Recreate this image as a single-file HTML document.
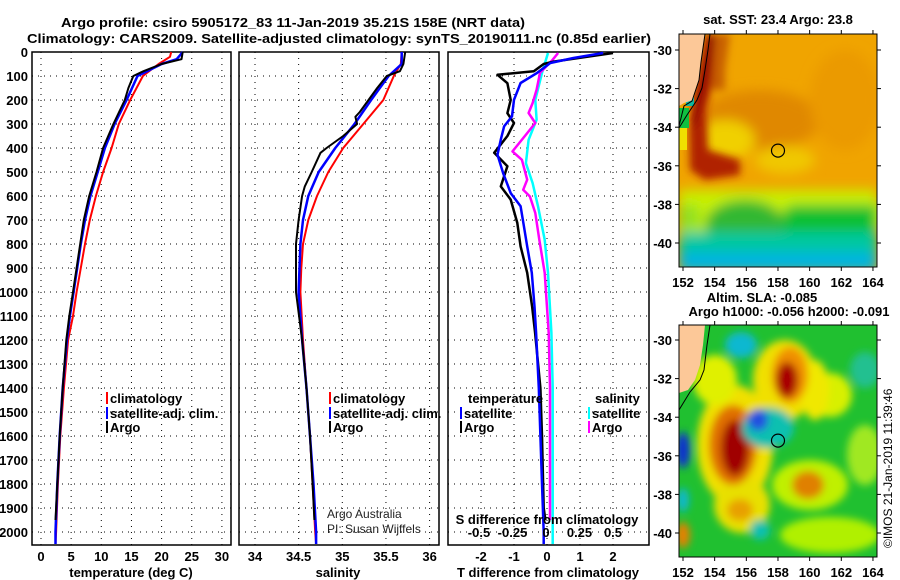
<!DOCTYPE html>
<html><head><meta charset="utf-8">
<style>
html,body{margin:0;padding:0;background:#fff;}
svg{display:block;font-family:"Liberation Sans",sans-serif;}
.b{font-weight:bold;font-size:13px;}
</style></head>
<body>
<svg id="fig" width="900" height="580" viewBox="0 0 900 580" xmlns="http://www.w3.org/2000/svg">
<defs>
<filter id="blur6" x="-50%" y="-50%" width="200%" height="200%"><feGaussianBlur stdDeviation="6"/></filter>
<filter id="blur4" x="-50%" y="-50%" width="200%" height="200%"><feGaussianBlur stdDeviation="4"/></filter>
<clipPath id="clipTop"><rect x="679" y="34" width="198" height="233"/></clipPath>
<clipPath id="clipBot"><rect x="679" y="325" width="198" height="232"/></clipPath>
</defs>
<text class="b" x="61" y="27" font-size="15" textLength="464" lengthAdjust="spacingAndGlyphs">Argo profile: csiro 5905172_83 11-Jan-2019 35.21S 158E (NRT data)</text>
<text class="b" x="27" y="43" font-size="15" textLength="624" lengthAdjust="spacingAndGlyphs">Climatology: CARS2009. Satellite-adjusted climatology: synTS_20190111.nc (0.85d earlier)</text>

<!-- top map -->
<g clip-path="url(#clipTop)">
  <rect x="679" y="34" width="198" height="233" fill="#f0a400"/>
  <g filter="url(#blur6)">
    <rect x="679" y="190" width="198" height="80" fill="#c8f000"/>
    <ellipse cx="800" cy="215" rx="110" ry="18" fill="#c8f000"/>
    <ellipse cx="760" cy="120" rx="60" ry="30" fill="#e08800"/>
    <ellipse cx="845" cy="100" rx="35" ry="50" fill="#eb9a00"/>
    <ellipse cx="725" cy="140" rx="30" ry="20" fill="#f0d000"/>
    <ellipse cx="785" cy="160" rx="30" ry="14" fill="#f0c800"/>
    <path d="M790 205 Q770 225 790 245 L877 245 L877 205 Z" fill="#10c030"/>
    <ellipse cx="745" cy="225" rx="40" ry="25" fill="#30b830"/>
    <rect x="679" y="232" width="198" height="40" fill="#00c8a0"/>
    <rect x="679" y="252" width="198" height="20" fill="#00b4e0"/>
    <rect x="679" y="205" width="20" height="25" fill="#90e020"/>
  </g>
  <g filter="url(#blur4)">
    <path d="M706 34 L722 34 L716 70 L706 110 L708 150 L740 160 L740 175 L705 180 L690 170 L689 130 L695 90 Z" fill="#b02000"/>
    <path d="M708 34 L716 34 L710 70 L700 110 L694 130 L690 120 L700 80 Z" fill="#900000"/>
    <path d="M715 34 L730 34 L725 70 L725 90 L712 90 Z" fill="#c86000"/>
  </g>
  <rect x="679" y="128" width="8" height="22" fill="#f0e000"/>
  <rect x="686" y="88" width="8" height="18" fill="#10b8a0"/>
  <rect x="679" y="108" width="10" height="20" fill="#10c040"/>
  <path d="M679 34 L705 34 L703 48 L701 62 L699 80 L695 92 L693 100 L684 103 L679 106 Z" fill="#fcc898"/>
  <path d="M705 34 L703 48 L701 62 L699 80 L695 92 L692 101 L684 106 L679 126" fill="none" stroke="#000" stroke-width="1"/>
  <path d="M710 34 L708 50 L705 70 L702 88 L697 100 L687 115 L679 128" fill="none" stroke="#000" stroke-width="1"/>
  <circle cx="778" cy="150.6" r="6.5" fill="none" stroke="#000" stroke-width="1.2"/>
</g>
<rect x="679" y="34" width="198" height="233" fill="none" stroke="#000" stroke-width="1"/>
<text class="b" x="778" y="24" text-anchor="middle">sat. SST: 23.4 Argo: 23.8</text>

<!-- bottom map -->
<g clip-path="url(#clipBot)">
  <rect x="679" y="325" width="198" height="232" fill="#20c030"/>
  <g filter="url(#blur4)">
    <ellipse cx="785" cy="380" rx="32" ry="40" fill="#f0e000"/>
    <ellipse cx="735" cy="445" rx="38" ry="60" fill="#f0e000"/>
    <ellipse cx="742" cy="505" rx="28" ry="28" fill="#e8e000"/>
    <ellipse cx="810" cy="485" rx="38" ry="25" fill="#c0f000"/>
    <ellipse cx="830" cy="395" rx="22" ry="22" fill="#d8f000"/>
    <ellipse cx="865" cy="455" rx="18" ry="30" fill="#a0e820"/>
    <ellipse cx="715" cy="380" rx="22" ry="25" fill="#e0f000"/>
    <ellipse cx="830" cy="535" rx="50" ry="18" fill="#b0f000"/>
    <ellipse cx="815" cy="390" rx="14" ry="30" fill="#f0e800"/>
    <ellipse cx="790" cy="375" rx="18" ry="28" fill="#f09000"/>
    <ellipse cx="787" cy="380" rx="11" ry="18" fill="#a80000"/>
    <ellipse cx="733" cy="445" rx="24" ry="40" fill="#e07000"/>
    <ellipse cx="735" cy="448" rx="14" ry="28" fill="#a00000"/>
    <ellipse cx="808" cy="485" rx="16" ry="14" fill="#e08000"/>
    <ellipse cx="740" cy="510" rx="13" ry="11" fill="#e8a000"/>
    <ellipse cx="768" cy="428" rx="26" ry="20" fill="#10c0b0"/>
    <ellipse cx="758" cy="420" rx="10" ry="11" fill="#2050e0"/>
    <ellipse cx="741" cy="345" rx="16" ry="13" fill="#10b8d0"/>
    <ellipse cx="683" cy="450" rx="7" ry="18" fill="#1030d0"/>
    <ellipse cx="683" cy="500" rx="6" ry="12" fill="#10b8d0"/>
    <ellipse cx="683" cy="535" rx="7" ry="13" fill="#e88000"/>
    <ellipse cx="865" cy="370" rx="15" ry="18" fill="#20c090"/>
    <ellipse cx="760" cy="530" rx="10" ry="10" fill="#10c0b0"/>
  </g>
  <path d="M679 325 L705 325 L703 345 L700 365 L695 380 L688 390 L679 393 Z" fill="#fcc898"/>
  <path d="M710 325 L707 345 L704 370 L700 380 L690 392 L679 410" fill="none" stroke="#000" stroke-width="1"/>
  <circle cx="778" cy="440.6" r="6.5" fill="none" stroke="#000" stroke-width="1.2"/>
</g>
<rect x="679" y="325" width="198" height="232" fill="none" stroke="#000" stroke-width="1"/>
<text class="b" x="762" y="302" text-anchor="middle">Altim. SLA: -0.085</text>
<text class="b" x="789" y="316" text-anchor="middle">Argo h1000: -0.056 h2000: -0.091</text>
<text x="892" y="548" font-size="12" transform="rotate(-90 892 548)">©IMOS 21-Jan-2019 11:39:46</text>

<g id="plots"></g>
<g id="mapaxes"></g>
</svg>
<script>
// ===== data =====
const depthTicks = [0,100,200,300,400,500,600,700,800,900,1000,1100,1200,1300,1400,1500,1600,1700,1800,1900,2000];
const tempTicks = [0,5,10,15,20,25,30];
const salTicks = [34,34.5,35,35.5,36];
const tdiffTicks = [-2,-1,0,1,2];
const sdiffTicks = [-0.5,-0.25,0,0.25,0.5];
const sdiffTickLabels = ["-0.5","-0.25","0","0.25","0.5"];
const lonTicks = [152,154,156,158,160,162,164];
const latTicks = [-30,-32,-34,-36,-38,-40];

const tempClimDepth = [0,20,50,100,200,300,400,500,600,700,800,900,1000,1100,1200,1400,1600,1800,2000,2050];
const tempClim = [21.6,21.4,19.5,16.9,14.8,12.9,11.7,10.3,9.1,8.1,7.3,6.6,5.9,5.3,4.5,3.8,3.2,2.8,2.5,2.4];
const tempArgoDepth = [0,30,50,80,100,150,200,300,400,500,600,700,800,900,1000,1100,1200,1400,1600,1800,1900,1950];
const tempArgo = [23.5,23.3,20,17,15.3,14.5,13.9,12,10.3,9.2,8,7.1,6.5,5.9,5.3,4.7,4.2,3.6,3.1,2.7,2.5,2.4];
const tempSatDepth = [0,30,50,100,200,300,400,500,600,700,800,900,1000,1100,1200,1400,1600,1800,2000,2050];
const tempSat = [23.5,22.5,20,16,14.2,12.2,10.6,9.4,8.2,7.3,6.6,6.0,5.4,4.8,4.3,3.6,3.1,2.7,2.4,2.4];

const salClimDepth = [0,50,100,200,300,400,500,600,700,800,900,1000,1200,1400,1600,1800,2000,2050];
const salClim = [35.68,35.67,35.59,35.47,35.24,35.01,34.84,34.71,34.61,34.55,34.53,34.52,34.55,34.59,34.63,34.66,34.69,34.70];
const salArgoDepth = [0,50,80,100,150,200,250,270,300,350,400,420,500,560,600,700,800,1000,1200,1400,1600,1800,1950];
const salArgo = [35.72,35.70,35.66,35.51,35.40,35.30,35.20,35.15,35.17,35.01,34.82,34.75,34.65,34.57,34.54,34.50,34.47,34.47,34.54,34.59,34.63,34.66,34.68];
const salSatDepth = [0,50,100,200,300,400,500,600,700,800,1000,1200,1400,1600,1800,2000,2050];
const salSat = [35.68,35.68,35.53,35.33,35.14,34.92,34.73,34.61,34.55,34.52,34.50,34.54,34.59,34.63,34.67,34.70,34.70];

const tdArgoDepth = [4,40,50,80,95,130,200,255,296,350,420,476,560,615,712,810,920,1060,1170,1400,1600,1900,1950];
const tdArgo = [2.0,0.2,-0.1,-0.4,-1.5,-1.2,-1.1,-1.2,-1.0,-1.2,-1.6,-1.2,-1.4,-1.1,-0.9,-0.8,-0.6,-0.45,-0.36,-0.2,-0.15,-0.1,-0.05];
const tdSatDepth = [4,25,46,87,129,199,268,310,365,428,504,588,643,726,810,920,1060,1170,1400,1600,1800,2000,2050];
const tdSat = [1.7,0.8,0.1,-0.3,-0.8,-1.0,-1.06,-1.3,-1.4,-1.5,-1.33,-1.1,-0.8,-0.7,-0.6,-0.46,-0.38,-0.33,-0.25,-0.2,-0.15,-0.1,-0.1];
const sdArgoDepth = [4,32,87,157,213,254,296,338,414,449,532,574,602,671,782,920,1170,1400,1700,1950];
const sdArgo = [0.09,0.05,-0.045,-0.07,-0.1,-0.13,-0.08,-0.14,-0.25,-0.18,-0.14,-0.17,-0.12,-0.08,-0.05,-0.01,0.02,0.03,0.03,0.03];
const sdSatDepth = [4,87,199,282,366,463,546,643,782,920,1170,1400,1700,2000,2050];
const sdSat = [0.015,-0.03,-0.08,-0.07,-0.13,-0.15,-0.1,-0.06,-0.01,0.015,0.04,0.05,0.05,0.05,0.05];

// ===== layout =====
const NS = "http://www.w3.org/2000/svg";
const plots = document.getElementById('plots');
const TOP = 52, BOT = 545;
const yD = d => TOP + d * 0.24;
const panels = [
  {name:'temperature', x0:32, x1:231, sx: v => 41 + v * 6.03, ticks: tempTicks, labels: tempTicks.map(String), title:'temperature (deg C)', tx:131},
  {name:'salinity', x0:239, x1:439, sx: v => 255 + (v - 34) * 87.3, ticks: salTicks, labels: ["34","34.5","35","35.5","36"], title:'salinity', tx:338},
  {name:'difference', x0:448, x1:649, sx: v => 547 + v * 33, ticks: tdiffTicks, labels: tdiffTicks.map(String), title:'T difference from climatology', tx:548}
];
const sxS = v => 546 + v * 134;

function mk(tag, attrs, parent) {
  const e = document.createElementNS(NS, tag);
  for (const k in attrs) e.setAttribute(k, attrs[k]);
  (parent || plots).appendChild(e);
  return e;
}
function txt(x, y, s, cls, anchor, parent) {
  const t = mk('text', {x:x, y:y, 'text-anchor':anchor || 'start'}, parent);
  if (cls) t.setAttribute('class', cls);
  t.textContent = s;
  return t;
}

panels.forEach((p, i) => {
  const g = mk('g', {});
  
  
  depthTicks.forEach(d => {
    const l = mk('line', {x1:p.x0, x2:p.x1, y1:yD(d), y2:yD(d), stroke:'#000', 'stroke-width':1, 'stroke-dasharray':'1 5'}, g);
    
    
  });
  p.ticks.forEach((v, k) => {
    const x = p.sx(v);
    const l = mk('line', {x1:x, x2:x, y1:TOP, y2:BOT, stroke:'#000', 'stroke-width':1, 'stroke-dasharray':'1 5'}, g);
    
    
    const t = txt(x, 561, p.labels[k], 'b', 'middle', g);
    
    
  });
  const fr = mk('rect', {x:p.x0, y:TOP, width:p.x1 - p.x0, height:BOT - TOP, fill:'none', stroke:'#000', 'stroke-width':1.5}, g);
  
  
  const tt = txt(p.tx, 577, p.title, 'b', 'middle', g);
  
  
});
depthTicks.forEach(d => {
  const t = txt(28, yD(d) + 5, String(d), 'b', 'end');
  
  
});

function series(depths, vals, sx, color, name, w) {
  const pts = depths.map((d, i) => sx(vals[i]).toFixed(1) + ',' + yD(d).toFixed(1)).join(' ');
  const pl = mk('polyline', {points:pts, fill:'none', stroke:color, 'stroke-width':w || 2, 'stroke-linejoin':'round'});
  
  
}
const P = panels;
series(tempClimDepth, tempClim, P[0].sx, '#ff0000', 'temperature-climatology-line');
series(tempSatDepth, tempSat, P[0].sx, '#0000ff', 'temperature-satellite-line', 2.5);
series(tempArgoDepth, tempArgo, P[0].sx, '#000000', 'temperature-argo-line');
series(salClimDepth, salClim, P[1].sx, '#ff0000', 'salinity-climatology-line');
series(salSatDepth, salSat, P[1].sx, '#0000ff', 'salinity-satellite-line', 2.5);
series(salArgoDepth, salArgo, P[1].sx, '#000000', 'salinity-argo-line');
series(sdSatDepth, sdSat, sxS, '#00ffff', 'sdiff-satellite-line', 2.5);
series(sdArgoDepth, sdArgo, sxS, '#ff00ff', 'sdiff-argo-line', 2.5);
series(tdArgoDepth, tdArgo, P[2].sx, '#000000', 'tdiff-argo-line', 2.5);
series(tdSatDepth, tdSat, P[2].sx, '#0000ff', 'tdiff-satellite-line', 2.5);

sdiffTicks.forEach((v, k) => {
  const t = txt(sxS(v), 537, sdiffTickLabels[k], 'b', 'middle');
  
  
});
const sdt = txt(547, 524, 'S difference from climatology', 'b', 'middle');



function legend(x, y, color, label, name) {
  const g = mk('g', {});
  
  
  mk('line', {x1:x, x2:x, y1:y - 11, y2:y + 1, stroke:color, 'stroke-width':2}, g);
  txt(x + 3, y, label, 'b', 'start', g);
}
legend(107, 403, '#ff0000', 'climatology', 'legend-climatology-temp');
legend(107, 418, '#0000ff', 'satellite-adj. clim.', 'legend-satellite-temp');
legend(107, 432, '#000000', 'Argo', 'legend-argo-temp');
legend(330, 403, '#ff0000', 'climatology', 'legend-climatology-sal');
legend(330, 418, '#0000ff', 'satellite-adj. clim.', 'legend-satellite-sal');
legend(330, 432, '#000000', 'Argo', 'legend-argo-sal');
const lt = txt(468, 403, 'temperature', 'b');


const ls = txt(595, 403, 'salinity', 'b');


legend(461, 418, '#0000ff', 'satellite', 'legend-tdiff-satellite');
legend(461, 432, '#000000', 'Argo', 'legend-tdiff-argo');
legend(589, 418, '#00ffff', 'satellite', 'legend-sdiff-satellite');
legend(589, 432, '#ff00ff', 'Argo', 'legend-sdiff-argo');

const c1 = txt(327, 518, 'Argo Australia', null, 'start');
c1.setAttribute('font-size', '12');
c1.setAttribute('fill', '#222');


const c2 = txt(327, 533, 'PI: Susan Wijffels', null, 'start');
c2.setAttribute('font-size', '12');
c2.setAttribute('fill', '#222');



const mapaxes = document.getElementById('mapaxes');
const lonX = lon => 683 + (lon - 152) * 15.83;
[[34, 267, 50], [325, 557, 340]].forEach((m, mi) => {
  const latY = lat => m[2] + (-30 - lat) * 19.3;
  lonTicks.forEach(lon => {
    mk('line', {x1:lonX(lon), x2:lonX(lon), y1:m[0] - 4, y2:m[0], stroke:'#000'}, mapaxes);
    mk('line', {x1:lonX(lon), x2:lonX(lon), y1:m[1], y2:m[1] + 4, stroke:'#000'}, mapaxes);
    const t = txt(lonX(lon), m[1] + 20, String(lon), 'b', 'middle', mapaxes);
    t.setAttribute('font-size', '14');
    
    
  });
  latTicks.forEach(lat => {
    mk('line', {x1:675, x2:679, y1:latY(lat), y2:latY(lat), stroke:'#000'}, mapaxes);
    mk('line', {x1:877, x2:881, y1:latY(lat), y2:latY(lat), stroke:'#000'}, mapaxes);
    const t = txt(672, latY(lat) + 5, String(lat), 'b', 'end', mapaxes);
    
    
  });
});
</script>
</body></html>
